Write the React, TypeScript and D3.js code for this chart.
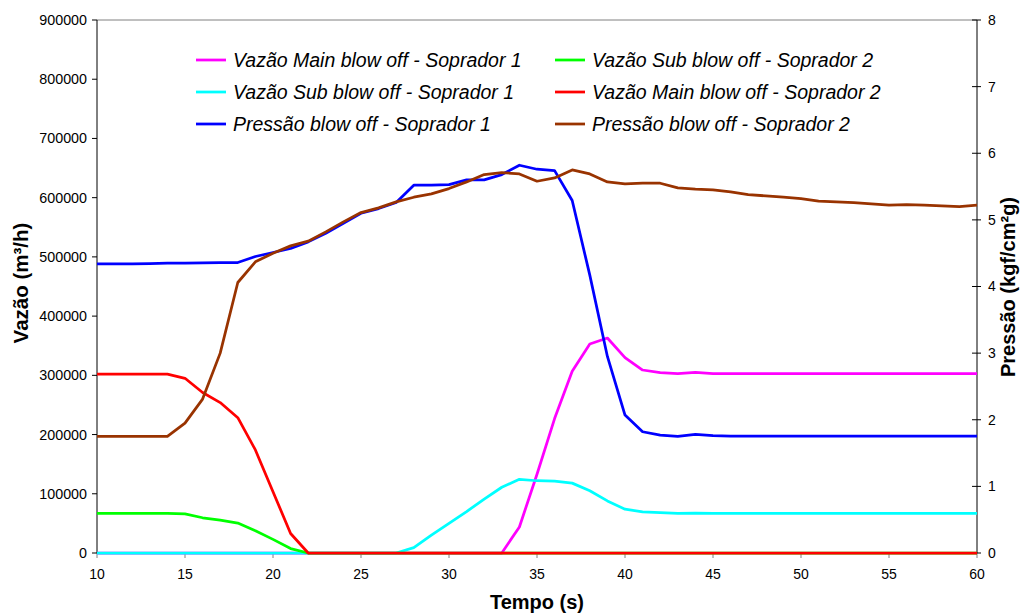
import React from "react";
import * as d3 from "d3";

const tempo = [10,11,12,13,14,15,16,17,18,19,20,21,22,23,24,25,26,27,28,29,30,31,32,33,34,35,36,37,38,39,40,41,42,43,44,45,46,47,48,49,50,51,52,53,54,55,56,57,58,59,60];

const vazaoMainS1 = [0,0,0,0,0,0,0,0,0,0,0,0,0,0,0,0,0,0,0,0,0,0,0,0,44000,133000,227000,307000,353000,363000,330000,309000,304500,303000,305000,303000,303000,303000,303000,303000,303000,303000,303000,303000,303000,303000,303000,303000,303000,303000,303000];
const vazaoSubS1 = [0,0,0,0,0,0,0,0,0,0,0,0,0,0,0,0,0,0,9000,30000,50000,70000,91000,111000,124500,122000,121500,118000,105000,88000,74000,69500,68000,67000,67500,67000,67000,67000,67000,67000,67000,67000,67000,67000,67000,67000,67000,67000,67000,67000,67000];
const vazaoSubS2 = [67000,67000,67000,67000,67000,66000,59500,55500,50500,37500,23000,7500,0,0,0,0,0,0,0,0,0,0,0,0,0,0,0,0,0,0,0,0,0,0,0,0,0,0,0,0,0,0,0,0,0,0,0,0,0,0,0];
const vazaoMainS2 = [302000,302000,302000,302000,302000,295000,271000,254000,228500,174000,103500,33000,0,0,0,0,0,0,0,0,0,0,0,0,0,0,0,0,0,0,0,0,0,0,0,0,0,0,0,0,0,0,0,0,0,0,0,0,0,0,0];
const pressaoS1 = [4.34,4.34,4.34,4.345,4.35,4.35,4.355,4.36,4.36,4.45,4.51,4.57,4.67,4.8,4.95,5.1,5.17,5.26,5.52,5.52,5.53,5.6,5.6,5.68,5.82,5.76,5.74,5.29,4.17,2.95,2.07,1.82,1.77,1.75,1.78,1.76,1.755,1.755,1.755,1.755,1.755,1.755,1.755,1.755,1.755,1.755,1.755,1.755,1.755,1.755,1.755];
const pressaoS2 = [1.75,1.75,1.75,1.75,1.75,1.95,2.31,3.0,4.06,4.37,4.5,4.61,4.68,4.82,4.97,5.11,5.18,5.27,5.34,5.39,5.47,5.57,5.68,5.71,5.69,5.58,5.63,5.75,5.69,5.57,5.54,5.55,5.55,5.48,5.46,5.45,5.42,5.38,5.36,5.34,5.32,5.28,5.27,5.26,5.24,5.22,5.23,5.22,5.21,5.2,5.22];

const xTicks = [10,15,20,25,30,35,40,45,50,55,60];
const leftTicks = [0,100000,200000,300000,400000,500000,600000,700000,800000,900000];
const rightTicks = [0,1,2,3,4,5,6,7,8];

const seriesNames = [
  "Vazão Main blow off - Soprador 1",
  "Vazão Sub blow off - Soprador 1",
  "Pressão blow off - Soprador 1",
  "Vazão Sub blow off - Soprador 2",
  "Vazão Main blow off - Soprador 2",
  "Pressão blow off - Soprador 2",
];
const seriesColors = ["#FF00FF", "#00FFFF", "#0000FF", "#00FF00", "#FF0000", "#993300"];

export default function App() {
  const W = 1020, H = 615;
  const left = 97, right = 977, top = 20, bottom = 553;
  const x = d3.scaleLinear().domain([10, 60]).range([left, right]);
  const yL = d3.scaleLinear().domain([0, 900000]).range([bottom, top]);
  const yR = d3.scaleLinear().domain([0, 8]).range([bottom, top]);

  const lineL = d3.line<number>().x((_, i) => x(tempo[i])).y((d) => yL(d));
  const lineR = d3.line<number>().x((_, i) => x(tempo[i])).y((d) => yR(d));

  const draws: { data: number[]; color: string; axis: "L" | "R" }[] = [
    { data: vazaoMainS1, color: seriesColors[0], axis: "L" },
    { data: vazaoSubS1, color: seriesColors[1], axis: "L" },
    { data: vazaoSubS2, color: seriesColors[3], axis: "L" },
    { data: vazaoMainS2, color: seriesColors[4], axis: "L" },
    { data: pressaoS1, color: seriesColors[2], axis: "R" },
    { data: pressaoS2, color: seriesColors[5], axis: "R" },
  ];

  const font = "'Liberation Sans', Arial, sans-serif";
  const legendCols = [196, 555];
  const legendRows = [60, 92, 124];

  return (
    <svg width={W} height={H} style={{ position: "absolute", left: 0, top: 0, background: "#fff" }} fontFamily={font}>
      <rect x={0} y={0} width={W} height={H} fill="#fff" />
      {/* top border */}
      <line x1={left} x2={right} y1={top} y2={top} stroke="#808080" strokeWidth={1} />
      {/* bottom axis */}
      <line x1={left} x2={right} y1={bottom} y2={bottom} stroke="#808080" strokeWidth={1} />
      {xTicks.map((t) => (
        <g key={"xt" + t}>
          <line x1={x(t)} x2={x(t)} y1={bottom} y2={bottom + 5} stroke="#808080" />
          <text x={x(t)} y={579} fontSize={14} textAnchor="middle" fill="#000">{t}</text>
        </g>
      ))}
      {/* left axis */}
      <line x1={left} x2={left} y1={top} y2={bottom} stroke="#000" strokeWidth={1} />
      {leftTicks.map((v) => (
        <g key={"lt" + v}>
          <line x1={left - 5} x2={left} y1={yL(v)} y2={yL(v)} stroke="#000" />
          <text x={87} y={yL(v)} dy="0.35em" fontSize={14.3} textAnchor="end" fill="#000">{v}</text>
        </g>
      ))}
      {/* right axis */}
      <line x1={right} x2={right} y1={top} y2={bottom} stroke="#000" strokeWidth={1} />
      {rightTicks.map((v) => (
        <g key={"rt" + v}>
          <line x1={right - 5} x2={right + 4} y1={yR(v)} y2={yR(v)} stroke="#000" />
          <text x={988} y={yR(v)} dy="0.35em" fontSize={14} textAnchor="start" fill="#000">{v}</text>
        </g>
      ))}
      {/* series */}
      {draws.map((s, i) => (
        <path key={"s" + i} d={(s.axis === "L" ? lineL : lineR)(s.data) || ""} fill="none" stroke={s.color} strokeWidth={2.75} strokeLinejoin="round" />
      ))}
      {/* legend */}
      {seriesNames.map((name, i) => {
        const col = Math.floor(i / 3);
        const row = i % 3;
        const lx = legendCols[col];
        const ly = legendRows[row];
        return (
          <g key={"lg" + i}>
            <line x1={lx} x2={lx + 30} y1={ly} y2={ly} stroke={seriesColors[i]} strokeWidth={2.75} />
            <text x={lx + 37} y={ly} dy="0.35em" fontSize={19.5} fontStyle="italic" fill="#000">{name}</text>
          </g>
        );
      })}
      {/* axis titles */}
      <text x={537} y={609} fontSize={20} fontWeight="bold" textAnchor="middle" fill="#000">Tempo (s)</text>
      <text transform={`translate(28,283) rotate(-90)`} fontSize={20.5} fontWeight="bold" textAnchor="middle" fill="#000">Vazão (m³/h)</text>
      <text transform={`translate(1015,287) rotate(-90)`} fontSize={20} fontWeight="bold" textAnchor="middle" fill="#000">Pressão (kgf/cm²g)</text>
    </svg>
  );
}
